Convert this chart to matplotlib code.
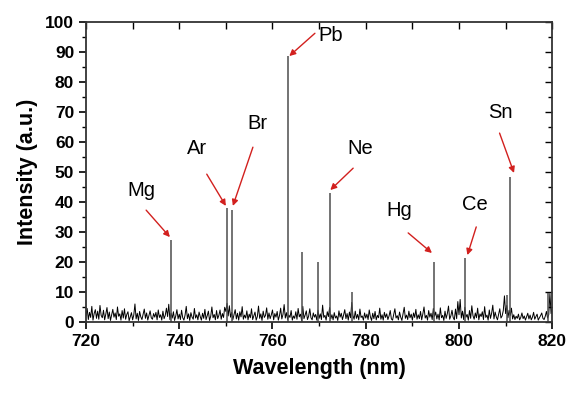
import numpy as np
import matplotlib
matplotlib.use("Agg")
import matplotlib.pyplot as plt
from matplotlib.ticker import MultipleLocator

plt.rcParams['font.family'] = ['Liberation Sans', 'DejaVu Sans']

# baseline noise, 0.25 nm step from 720 to 820
noise_start = 720.0
noise_step = 0.25
noise = [
    2.1,4.5,0.8,3.2,1.5,5.2,0.6,2.8,4.1,1.2,3.6,0.9,5.5,2.2,1.4,3.9,0.7,2.6,4.8,1.1,
    3.3,0.5,2.4,4.2,1.6,3.0,0.8,5.0,1.9,2.7,0.6,3.8,1.3,4.4,0.9,2.5,3.4,0.4,1.8,3.1,
    0.7,2.3,6.0,1.0,2.9,0.5,3.5,1.7,0.8,2.6,4.3,1.2,3.0,0.6,2.1,3.7,1.4,0.9,2.8,1.6,
    3.2,0.7,4.0,1.5,2.4,0.6,3.6,1.1,2.2,4.6,1.8,5.9,0.8,2.9,1.3,3.4,0.5,2.0,4.1,1.0,
    2.6,0.8,3.9,1.4,0.6,2.3,5.2,1.1,2.7,0.5,3.1,1.6,0.9,4.5,1.3,2.4,0.7,3.3,1.8,0.6,
    2.9,1.2,4.2,0.8,2.1,3.6,0.5,1.9,5.0,1.4,2.5,0.7,3.8,1.1,2.2,4.0,0.9,2.8,1.5,4.9,
    3.5,6.2,2.0,5.4,1.6,3.2,0.8,2.4,4.1,1.0,2.9,0.6,3.4,1.7,5.1,0.9,2.3,1.3,3.7,0.7,
    2.6,1.4,4.4,0.8,2.0,3.3,0.6,1.8,5.3,1.2,2.7,0.5,3.6,1.5,2.2,4.7,0.9,3.0,1.1,2.4,
    4.0,0.7,2.8,1.6,3.5,0.6,2.1,4.6,1.0,2.5,5.8,1.3,3.1,0.8,2.3,1.5,3.8,0.6,2.0,1.2,
    3.4,0.9,4.5,1.7,2.6,0.5,5.2,1.1,2.3,3.7,0.8,1.9,4.4,1.4,0.7,3.0,1.6,2.5,0.6,3.9,
    1.2,2.7,0.8,5.6,1.5,2.2,0.6,3.4,1.8,4.8,1.0,2.4,0.7,3.1,1.3,2.0,0.5,3.7,1.6,2.9,
    0.8,2.3,4.1,1.1,2.8,0.6,3.3,1.4,6.5,2.2,0.9,3.6,1.2,2.5,0.7,4.3,1.5,2.0,0.6,3.0,
    1.3,2.6,0.8,4.0,1.7,0.5,2.9,1.1,3.5,0.7,2.2,1.4,4.6,0.9,2.4,0.6,3.2,1.5,2.7,0.8,
    2.0,3.8,1.0,0.6,2.5,4.4,1.3,2.1,0.7,3.3,1.6,0.5,2.8,4.9,1.2,2.3,0.8,3.6,1.4,2.6,
    0.6,3.0,1.5,4.2,0.9,2.4,1.1,3.5,0.7,2.7,5.0,1.3,2.2,0.6,3.8,1.6,2.9,0.8,4.5,1.9,
    3.3,1.0,2.6,0.7,4.7,1.4,2.2,0.5,3.6,1.2,2.8,5.3,0.9,2.0,3.9,1.5,0.7,4.3,1.1,6.8,
    2.4,7.5,1.3,3.6,0.8,4.9,1.6,2.5,0.6,3.8,1.2,5.4,2.1,0.9,3.0,1.4,4.6,0.7,2.7,1.8,
    3.4,0.8,5.1,1.5,2.3,0.6,4.0,1.2,2.9,5.6,1.0,3.3,1.7,0.7,2.6,4.4,1.3,2.0,3.8,8.7,
    2.8,5.5,1.4,3.9,2.2,4.6,1.0,2.4,0.8,1.9,1.2,2.6,0.7,1.5,3.0,1.1,2.0,0.6,1.7,2.9,
    1.0,2.3,0.7,1.6,3.2,0.9,1.8,2.6,0.6,1.4,2.1,3.0,1.2,0.8,1.9,3.5,1.3,2.4,9.5,2.8,
    4.5,
]

# emission lines
peak_wl = [738.2, 750.3, 751.3, 763.4, 766.4, 769.8, 772.4, 777.1, 794.7, 801.3, 810.2, 811.0, 819.1]
peak_int = [27.5, 38.0, 37.5, 88.7, 23.3, 20.0, 43.0, 10.0, 20.0, 21.3, 9.0, 48.3, 9.5]

# labels: element, text position (x, y), arrow tail (x, y), arrow head (x, y)
labels = ["Mg", "Ar", "Br", "Pb", "Ne", "Hg", "Ce", "Sn"]
label_x = [731.8, 743.8, 756.7, 772.4, 778.8, 787.2, 803.3, 808.9]
label_y = [44.0, 58.0, 66.3, 95.7, 58.0, 37.3, 39.3, 70.0]
tail_x = [732.9, 745.9, 755.8, 769.1, 777.3, 789.1, 803.7, 808.7]
tail_y = [37.3, 49.3, 58.3, 96.3, 51.3, 29.7, 31.7, 63.0]
head_x = [738.0, 750.0, 751.5, 763.6, 772.4, 794.2, 801.8, 811.8]
head_y = [28.3, 38.7, 38.7, 88.7, 44.0, 23.0, 22.3, 49.7]

fig = plt.figure(figsize=(5.85, 3.96), dpi=100)
ax = fig.add_axes([0.147, 0.187, 0.797, 0.757])

wl = noise_start + noise_step * np.arange(len(noise))
ax.plot(wl, noise, color='black', lw=0.7)
ax.vlines(peak_wl, 0, peak_int, color='0.3', lw=1.1)

red = '#d2201e'
for lab, lx, ly, tx, ty, hx, hy in zip(labels, label_x, label_y, tail_x, tail_y, head_x, head_y):
    ax.text(lx, ly, lab, fontsize=14.5, ha='center', va='center', color='black')
    ax.annotate('', xy=(hx, hy), xytext=(tx, ty),
                arrowprops=dict(arrowstyle='-|>', color=red, lw=1.0, mutation_scale=9,
                                shrinkA=0, shrinkB=0))

ax.set_xlim(720, 820)
ax.set_ylim(0, 100)
ax.xaxis.set_major_locator(MultipleLocator(20))
ax.xaxis.set_minor_locator(MultipleLocator(10))
ax.yaxis.set_major_locator(MultipleLocator(10))
ax.yaxis.set_minor_locator(MultipleLocator(5))
ax.tick_params(which='major', direction='out', length=5, width=1.2, labelsize=12.5)
ax.tick_params(which='minor', direction='out', length=3, width=1.0)
for lbl in ax.get_xticklabels() + ax.get_yticklabels():
    lbl.set_fontweight('bold')

secx = ax.secondary_xaxis('top')
secx.xaxis.set_major_locator(MultipleLocator(20))
secx.xaxis.set_minor_locator(MultipleLocator(10))
secx.tick_params(which='both', direction='in', length=5, width=1.0, labeltop=False)
secy = ax.secondary_yaxis('right')
secy.yaxis.set_major_locator(MultipleLocator(10))
secy.yaxis.set_minor_locator(MultipleLocator(5))
secy.tick_params(which='major', direction='in', length=5, width=1.0, labelright=False)
secy.tick_params(which='minor', direction='in', length=3, width=1.0, labelright=False)

for s in list(ax.spines.values()):
    s.set_linewidth(1.3)
    s.set_color('0.2')
secx.spines['top'].set_visible(False)
secy.spines['right'].set_visible(False)

ax.set_xlabel('Wavelength (nm)', fontsize=15.5, fontweight='bold', labelpad=7)
ax.set_ylabel('Intensity (a.u.)', fontsize=15.5, fontweight='bold', labelpad=5)

fig.savefig('out.png', dpi=100)
